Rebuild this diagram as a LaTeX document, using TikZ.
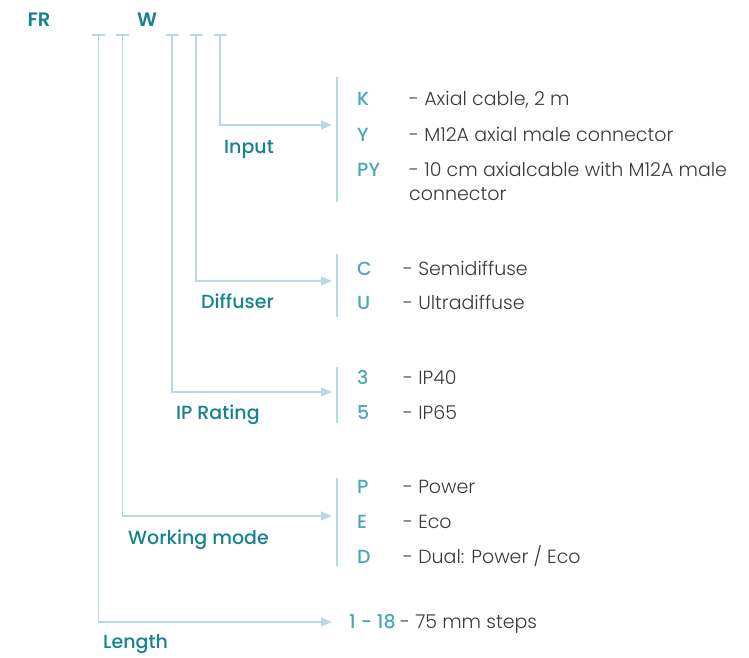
\documentclass[tikz,border=0pt]{standalone}
\usepackage{fontspec}
\setmainfont{Poppins}[UprightFont=* Light, BoldFont=* SemiBold]
\newfontfamily\medfont{Poppins Medium}
\usetikzlibrary{arrows.meta}
\definecolor{darkteal}{HTML}{16838F}
\definecolor{codeteal}{HTML}{4AA8B3}
\definecolor{linecol}{HTML}{B5DBE1}
\definecolor{txt}{HTML}{3A3A3A}
\begin{document}
\begin{tikzpicture}[x=1pt,y=-1pt,
  conn/.style={draw=linecol,line width=1.3pt},
  arr/.style={conn,-{Triangle[length=11pt,width=9pt]}},
  title/.style={anchor=base,inner sep=0pt,text=darkteal,font=\fontsize{19.5}{22}\selectfont\bfseries},
  lbl/.style={anchor=base west,inner sep=0pt,text=darkteal,font=\fontsize{19}{22}\selectfont\medfont},
  code/.style={anchor=base west,inner sep=0pt,text=codeteal,font=\fontsize{19}{22}\selectfont\medfont},
  desc/.style={anchor=base west,inner sep=0pt,text=txt,font=\fontsize{19}{22}\selectfont,align=left}]
\useasboundingbox (0,0) rectangle (749,657);
% header
\node[title] (fr) at (39,26) {FR};
\node[title] (w) at (147,26) {W};
% stems (top of each T)
\coordinate (s1) at (98.5,35);
\coordinate (s2) at (122.5,35);
\coordinate (s3) at (172,35);
\coordinate (s4) at (196,35);
\coordinate (s5) at (220,35);
\foreach \s in {s1,s2,s3,s4,s5}{
  \draw[conn] ([xshift=-6.5pt]\s) -- ([xshift=6.5pt]\s);
}
% arrow targets
\coordinate (inArr) at (332,125);
\coordinate (diArr) at (332,281);
\coordinate (ipArr) at (332,392);
\coordinate (wmArr) at (332,516);
\coordinate (lnArr) at (332,622);
\draw[arr] (s5) |- (inArr);
\draw[arr] (s4) |- (diArr);
\draw[arr] (s3) |- (ipArr);
\draw[arr] (s2) |- (wmArr);
\draw[arr] (s1) |- (lnArr);
% brackets
\coordinate (inT) at (337,77);  \coordinate (inB) at (337,202);
\coordinate (diT) at (337,254); \coordinate (diB) at (337,317);
\coordinate (ipT) at (337,367); \coordinate (ipB) at (337,423);
\coordinate (wmT) at (337,478); \coordinate (wmB) at (337,566);
\draw[conn] (inT) -- (inB);
\draw[conn] (diT) -- (diB);
\draw[conn] (ipT) -- (ipB);
\draw[conn] (wmT) -- (wmB);
% labels
\node[lbl] (lin) at (224,153) {Input};
\node[lbl] (ldi) at (201,308) {Diffuser};
\node[lbl] (lip) at (176,419) {IP Rating};
\node[lbl] (lwm) at (128,544) {Working mode};
\node[lbl] (lln) at (103,648) {Length};
% input options
\node[code] (cK) at (357,105) {K};
\node[code] (cY) at (357,141) {Y};
\node[code] (cPY) at (357,176) {PY};
\node[desc] (dK) at (409,105) {- Axial cable, 2 m};
\node[desc] (dY) at (409,141) {- M12A axial male connector};
\node[desc] (dPY) at (409,176) {- 10 cm axialcable with M12A male};
\node[desc] (dPY2) at (409,200) {connector};
% diffuser options
\node[code] (cC) at (357,275) {C};
\node[code] (cU) at (357,309) {U};
\node[desc] (dC) at (403,275) {- Semidiffuse};
\node[desc] (dU) at (403,309) {- Ultradiffuse};
% ip options
\node[code] (c3) at (357,384) {3};
\node[code] (c5) at (357,419) {5};
\node[desc] (d3) at (403,384) {- IP40};
\node[desc] (d5) at (403,419) {- IP65};
% working mode options
\node[code] (cP) at (357,493) {P};
\node[code] (cE) at (357,528) {E};
\node[code] (cD) at (357,563) {D};
\node[desc] (dP) at (403,493) {- Power};
\node[desc] (dE) at (403,528) {- Eco};
\node[desc] (dD) at (403,563) {- Dual: Power / Eco};
% length
\node[code] (cL) at (349,628) {1 - 18};
\node[desc] (dL) at (400,628) {- 75 mm steps};
\end{tikzpicture}
\end{document}
